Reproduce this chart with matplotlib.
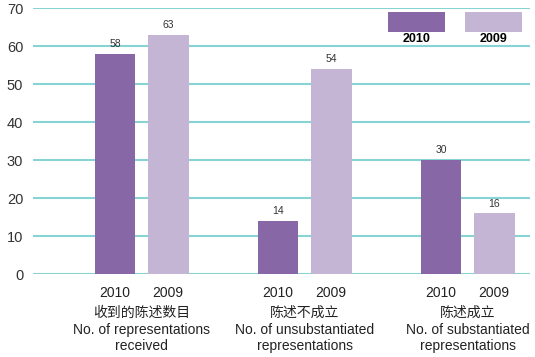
import numpy as np
import matplotlib
matplotlib.use('Agg')
import matplotlib.pyplot as plt
from matplotlib.patches import Rectangle

plt.rcParams['font.family'] = ['Liberation Sans', 'Noto Sans CJK SC', 'DejaVu Sans']

# data
years = ['2010', '2009']
cat_zh = ['收到的陈述数目', '陈述不成立', '陈述成立']
cat_en = ['No. of representations\nreceived', 'No. of unsubstantiated\nrepresentations',
          'No. of substantiated\nrepresentations']
vals_2010 = [58, 14, 30]
vals_2009 = [63, 54, 16]

dark = '#8767a6'
light = '#c4b5d4'
grid_c = '#88d4d4'

fig = plt.figure(figsize=(5.35, 3.57), dpi=100)
ax = fig.add_axes([33/535, 83/357, 497/535, 266/357])

x = np.arange(len(cat_zh))
w = 0.25
off = 0.163
b1 = ax.bar(x - off, vals_2010, w, color=dark, zorder=3)
b2 = ax.bar(x + off, vals_2009, w, color=light, zorder=3)

for bars in (b1, b2):
    for b in bars:
        ax.text(b.get_x() + b.get_width()/2, b.get_height() + 1.2, str(int(b.get_height())),
                ha='center', va='bottom', fontsize=7.5, color='#333333')

ax.set_xlim(-0.666, 2.383)
ax.set_ylim(0, 70)
ax.set_yticks(range(0, 71, 10))
for yv in range(0, 71, 10):
    ax.axhline(yv, color=grid_c, lw=1.5, zorder=1)
ax.tick_params(axis='y', length=0, labelsize=10.5, pad=7, labelcolor='#333333')
ax.set_xticks([])
for s in ax.spines.values():
    s.set_visible(False)

# x labels under bars
trans = ax.get_xaxis_transform()
for i in range(len(cat_zh)):
    ax.text(x[i] - off, -0.045, years[0], transform=trans, ha='center', va='top', fontsize=10, color='#222222')
    ax.text(x[i] + off, -0.045, years[1], transform=trans, ha='center', va='top', fontsize=10, color='#222222')
    ax.text(x[i], -0.118, cat_zh[i], transform=trans, ha='center', va='top', fontsize=10, color='#222222')
    ax.text(x[i], -0.186, cat_en[i], transform=trans, ha='center', va='top', fontsize=10,
            color='#222222', linespacing=1.15)

# legend
for (lx, col, lab) in [(388, dark, years[0]), (465, light, years[1])]:
    fig.add_artist(Rectangle((lx/535, 1 - 32/357), 57/535, 20/357, transform=fig.transFigure,
                             facecolor=col, edgecolor='none'))
    fig.text((lx + 28.5)/535, 1 - 33/357, lab, ha='center', va='top', fontsize=9,
             fontweight='bold', color='black')

fig.savefig('out.png', dpi=100)
